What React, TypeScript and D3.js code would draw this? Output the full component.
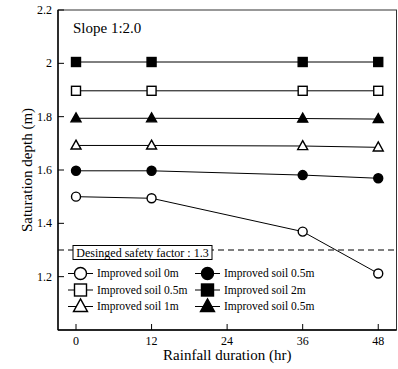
import React from 'react';
import * as d3 from 'd3';

// rainfall duration (hr) where saturation depth was measured
const hours = [0, 12, 36, 48];
const xTicks = [0, 12, 24, 36, 48];
const yTicks = [1.2, 1.4, 1.6, 1.8, 2, 2.2];

// saturation depth (m) per improved-soil case
const soil0m = [1.5, 1.494, 1.369, 1.212];
const soil05mOpenSquare = [1.897, 1.897, 1.897, 1.897];
const soil1m = [1.692, 1.692, 1.69, 1.685];
const soil05mFilledCircle = [1.597, 1.597, 1.581, 1.569];
const soil2m = [2.005, 2.005, 2.005, 2.005];
const soil05mFilledTriangle = [1.794, 1.794, 1.793, 1.791];

const safetyFactorDepth = 1.3;

type Shape = 'circle' | 'square' | 'triangle';

const series: { label: string; values: number[]; shape: Shape; filled: boolean }[] = [
    { label: 'Improved soil 0m', values: soil0m, shape: 'circle', filled: false },
    { label: 'Improved soil 0.5m', values: soil05mOpenSquare, shape: 'square', filled: false },
    { label: 'Improved soil 1m', values: soil1m, shape: 'triangle', filled: false },
    { label: 'Improved soil 0.5m', values: soil05mFilledCircle, shape: 'circle', filled: true },
    { label: 'Improved soil 2m', values: soil2m, shape: 'square', filled: true },
    { label: 'Improved soil 0.5m', values: soil05mFilledTriangle, shape: 'triangle', filled: true },
];

const W = 398;
const H = 369;
const margin = { top: 10, right: 1.5, bottom: 39, left: 58 };
const FONT = "'Liberation Serif', 'Times New Roman', Times, serif";

const Marker = ({ shape, filled, cx, cy, s }: { shape: Shape; filled: boolean; cx: number; cy: number; s: number }) => {
    const fill = filled ? '#000' : '#fff';
    if (shape === 'circle') {
        return <circle cx={cx} cy={cy} r={s / 2} fill={fill} stroke="#000" strokeWidth={1.4} />;
    }
    if (shape === 'square') {
        return <rect x={cx - s / 2} y={cy - s / 2} width={s} height={s} fill={fill} stroke="#000" strokeWidth={1.4} />;
    }
    const h = s * 0.9;
    const pts = `${cx},${cy - h * 0.6} ${cx + s / 2},${cy + h * 0.4} ${cx - s / 2},${cy + h * 0.4}`;
    return <polygon points={pts} fill={fill} stroke="#000" strokeWidth={1.4} strokeLinejoin="miter" />;
};

const App = () => {
    const x = d3.scaleLinear().domain([-2.86, 50.9]).range([margin.left, W - margin.right]);
    const y = d3.scaleLinear().domain([1.0, 2.2]).range([H - margin.bottom, margin.top]);

    const line = d3.line<number>()
        .x((_, i) => x(hours[i]))
        .y(d => y(d));

    const x0 = x.range()[0];
    const x1 = x.range()[1];
    const y0 = y.range()[0];
    const y1 = y.range()[1];

    const legendCols = [68, 195];
    const legendRows = [273.5, 290, 306.5];

    return (
        <div style={{ position: 'absolute', left: 0, top: 0 }}>
            <svg width={W} height={H} style={{ display: 'block', background: '#fff', fontFamily: FONT }}>
                {/* dashed design safety line */}
                <line x1={x0} x2={x1} y1={y(safetyFactorDepth)} y2={y(safetyFactorDepth)}
                    stroke="#000" strokeWidth={1} strokeDasharray="6,4" />

                {/* series lines and markers */}
                {series.map((s, si) => (
                    <g key={si}>
                        <path d={line(s.values) || ''} fill="none" stroke="#000" strokeWidth={1} />
                        {s.values.map((v, i) => (
                            <Marker key={i} shape={s.shape} filled={s.filled} cx={x(hours[i])} cy={y(v)} s={s.shape === 'triangle' ? 10 : 9} />
                        ))}
                    </g>
                ))}

                {/* safety factor label box */}
                <rect x={73} y={245.5} width={139} height={14} fill="#fff" stroke="#000" strokeWidth={1} />
                <text x={142.5} y={256.5} fontSize={12} textAnchor="middle">Desinged safety factor : 1.3</text>

                {/* legend */}
                {series.map((s, i) => {
                    const lx = legendCols[Math.floor(i / 3)];
                    const ly = legendRows[i % 3];
                    return (
                        <g key={i}>
                            <line x1={lx} x2={lx + 25} y1={ly} y2={ly} stroke="#000" strokeWidth={1} />
                            <Marker shape={s.shape} filled={s.filled} cx={lx + 12.5} cy={ly} s={s.shape === 'triangle' ? 14 : 12} />
                            <text x={lx + 29} y={ly + 3.5} fontSize={11.5}>{s.label}</text>
                        </g>
                    );
                })}

                {/* frame */}
                <rect x={x0} y={y1} width={x1 - x0} height={y0 - y1} fill="none" stroke="#333" strokeWidth={1} />
                <line x1={x0} x2={x1} y1={y0} y2={y0} stroke="#000" strokeWidth={1.4} />
                <line x1={x0} x2={x0} y1={y0} y2={y1} stroke="#000" strokeWidth={1.4} />

                {/* x ticks */}
                {xTicks.map(t => (
                    <g key={t}>
                        <line x1={x(t)} x2={x(t)} y1={y0} y2={y0 - 6} stroke="#000" strokeWidth={1} />
                        <text x={x(t)} y={y0 + 15} fontSize={12} textAnchor="middle">{t}</text>
                    </g>
                ))}

                {/* y ticks */}
                {yTicks.map(t => (
                    <g key={t}>
                        <line x1={x0} x2={x0 + 6} y1={y(t)} y2={y(t)} stroke="#000" strokeWidth={1} />
                        <text x={x0 - 6} y={y(t) + 4} fontSize={12} textAnchor="end">{t}</text>
                    </g>
                ))}

                <text x={73} y={33} fontSize={15}>Slope 1:2.0</text>
                <text x={(x0 + x1) / 2} y={360} fontSize={15} textAnchor="middle">Rainfall duration (hr)</text>
                <text transform={`translate(31.5,${(y0 + y1) / 2}) rotate(-90)`} fontSize={15} textAnchor="middle">Saturation depth (m)</text>
            </svg>
        </div>
    );
};

export default App;
